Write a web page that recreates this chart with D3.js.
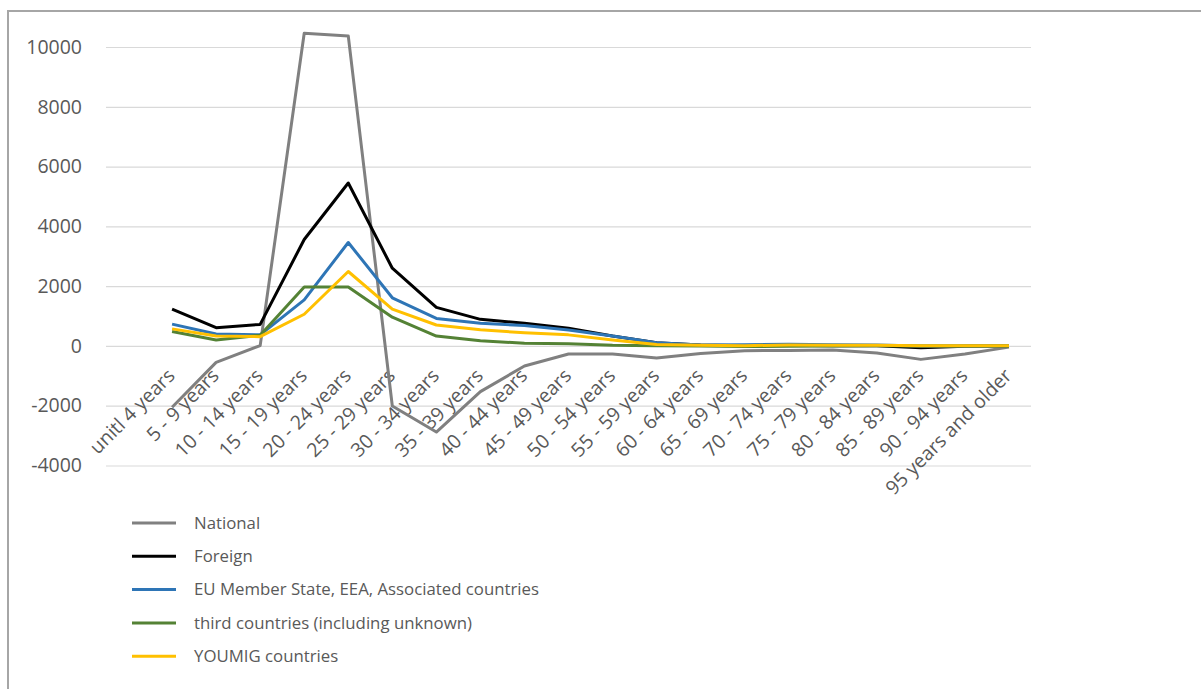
<!DOCTYPE html>
<html>
<head>
<meta charset="utf-8">
<script src="https://cdn.jsdelivr.net/npm/d3@7"></script>
<style>
  body { margin: 0; background: #fff; }
  svg { display: block; }
</style>
</head>
<body>
<svg id="chart" width="1201" height="689"></svg>
<script>
// Age groups on the category axis
const ageGroups = [
  "unitl 4 years", "5 - 9 years", "10 - 14 years", "15 - 19 years", "20 - 24 years",
  "25 - 29 years", "30 - 34 years", "35 - 39 years", "40 - 44 years", "45 - 49 years",
  "50 - 54 years", "55 - 59 years", "60 - 64 years", "65 - 69 years", "70 - 74 years",
  "75 - 79 years", "80 - 84 years", "85 - 89 years", "90 - 94 years", "95 years and older"
];

// Net migration by citizenship group
const national = [-2050, -550, 10, 10460, 10370, -2010, -2880, -1530, -670, -270,
                  -270, -400, -250, -160, -150, -140, -240, -450, -270, -40];
const foreign  = [1230, 610, 720, 3560, 5450, 2600, 1290, 890, 760, 590,
                  330, 110, 30, 10, 20, 10, 10, -60, -10, 0];
const euEea    = [730, 400, 370, 1540, 3460, 1610, 920, 760, 680, 530,
                  330, 110, 30, 40, 60, 40, 30, 0, 0, 0];
const thirdCountries = [480, 200, 360, 1970, 1970, 960, 330, 170, 90, 70,
                        20, 10, 0, -20, -10, 0, 10, 0, 0, 0];
const youmig   = [570, 330, 310, 1060, 2490, 1230, 700, 540, 440, 370,
                  200, 50, 20, 10, 30, 20, 20, 10, 10, 10];

const seriesNames  = ["National", "Foreign", "EU Member State, EEA, Associated countries",
                      "third countries (including unknown)", "YOUMIG countries"];
const seriesValues = [national, foreign, euEea, thirdCountries, youmig];
const seriesColors = ["#808080", "#000000", "#2e75b6", "#548235", "#ffc000"];

const yTicks = [-4000, -2000, 0, 2000, 4000, 6000, 8000, 10000];

const svg = d3.select("#chart");
const FONT = "'Open Sans', 'DejaVu Sans', sans-serif";
const TEXT = "#595959";

// Chart frame
svg.append("rect")
  .attr("x", 8).attr("y", 11)
  .attr("width", 1210).attr("height", 700)
  .attr("fill", "none")
  .attr("stroke", "#a6a6a6")
  .attr("stroke-width", 2);

const plot = { left: 106, right: 1031, top: 47, bottom: 465.5 };

// The category axis keeps one empty slot before the first age group
const slot = (plot.right - plot.left) / (ageGroups.length + 1);
const x = d3.scaleBand()
  .domain(ageGroups)
  .range([plot.left + slot, plot.right]);
const xc = d => x(d) + x.bandwidth() / 2;

const y = d3.scaleLinear()
  .domain([-4000, 10000])
  .range([plot.bottom, plot.top]);

// Horizontal gridlines and value labels
const yAxis = d3.axisLeft(y)
  .tickValues(yTicks)
  .tickSize(-(plot.right - plot.left))
  .tickPadding(24)
  .tickFormat(d => String(d));

const gy = svg.append("g")
  .attr("transform", `translate(${plot.left},0)`)
  .call(yAxis);
gy.select(".domain").remove();
gy.selectAll(".tick line")
  .attr("stroke", "#d9d9d9")
  .attr("stroke-width", 1.2);
gy.selectAll(".tick text")
  .attr("fill", TEXT)
  .style("font-family", FONT)
  .style("font-size", "19.5px");

// Rotated age-group labels hanging below the zero line
const xAxis = d3.axisBottom(x).tickSize(0).tickPadding(0);
const gx = svg.append("g")
  .attr("transform", `translate(0,${y(0)})`)
  .call(xAxis);
gx.select(".domain").remove();
gx.selectAll(".tick text")
  .attr("fill", TEXT)
  .style("font-family", FONT)
  .style("font-size", "19.5px")
  .attr("text-anchor", "end")
  .attr("dy", null)
  .attr("transform", "translate(4,31) rotate(-45)");

// Series lines
const line = d3.line()
  .x((d, i) => xc(ageGroups[i]))
  .y(d => y(d));

svg.append("g")
  .selectAll("path")
  .data(seriesValues)
  .join("path")
  .attr("d", d => line(d))
  .attr("fill", "none")
  .attr("stroke", (d, i) => seriesColors[i])
  .attr("stroke-width", 3)
  .attr("stroke-linejoin", "round");

// Legend
const legend = svg.append("g")
  .selectAll("g")
  .data(seriesNames)
  .join("g")
  .attr("transform", (d, i) => `translate(132,${523 + i * 33.3})`);
legend.append("line")
  .attr("x1", 0).attr("x2", 44)
  .attr("stroke", (d, i) => seriesColors[i])
  .attr("stroke-width", 3);
legend.append("text")
  .attr("x", 62)
  .attr("dy", "0.35em")
  .attr("fill", TEXT)
  .style("font-family", FONT)
  .style("font-size", "16.8px")
  .text(d => d);
</script>
</body>
</html>
